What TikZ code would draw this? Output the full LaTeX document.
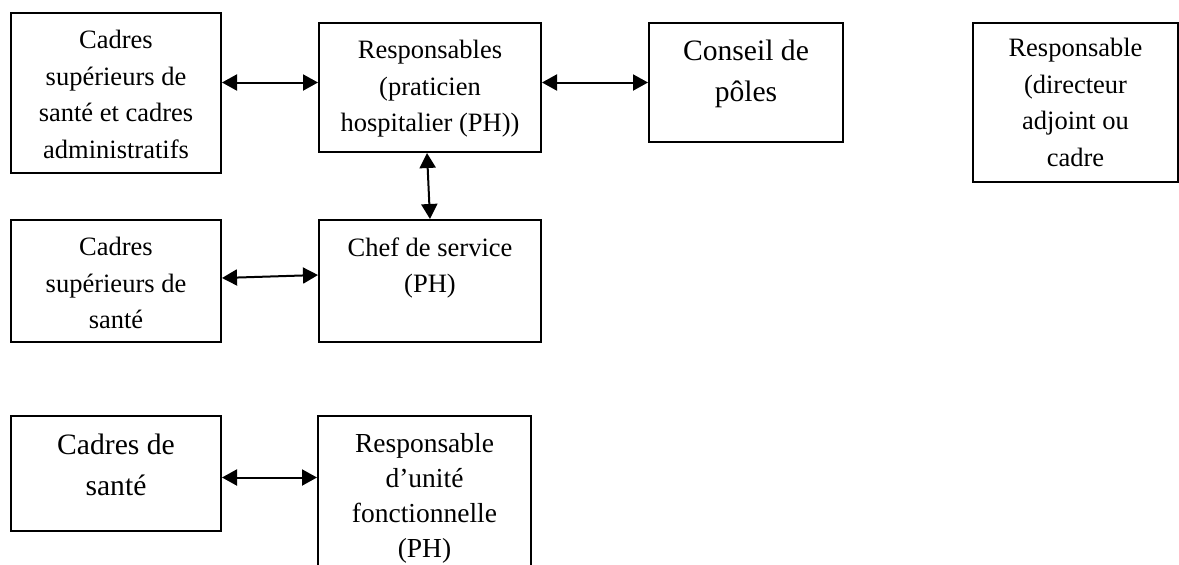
\documentclass[tikz,border=0pt]{standalone}
\usepackage{fontspec}
\setmainfont{Liberation Serif}
\usetikzlibrary{arrows.meta, positioning}

\begin{document}
\begin{tikzpicture}[
    boite/.style={rectangle, draw, line width=1pt, anchor=north west, inner sep=0pt},
    texte/.style={inner sep=0pt, align=center, font=\fontsize{13.25}{18.25}\selectfont},
    serre/.style={inner sep=0pt, align=center, font=\fontsize{13.75}{17.5}\selectfont},
    grand/.style={inner sep=0pt, align=center, font=\fontsize{14.8}{20.5}\selectfont},
    fleche/.style={{Triangle[length=7.5pt,width=8pt]}-{Triangle[length=7.5pt,width=8pt]}, line width=1pt}
]
\useasboundingbox (0,0) rectangle (589.5pt,-282pt);

% cadres
\node[boite, minimum width=105pt, minimum height=80pt] (cadsup) at (5pt,-6pt) {};
\node[boite, minimum width=105pt, minimum height=61pt] (cadsan) at (5pt,-109.5pt) {};
\node[boite, minimum width=105pt, minimum height=57.5pt] (cadres) at (5pt,-207.5pt) {};
\node[boite, minimum width=111pt, minimum height=64.5pt] (resp) at (159pt,-11pt) {};
\node[boite, minimum width=111pt, minimum height=61pt] (chef) at (159pt,-109.5pt) {};
\node[boite, minimum width=106.5pt, minimum height=81pt] (unite) at (158.5pt,-207.5pt) {};
\node[boite, minimum width=97pt, minimum height=59.5pt] (conseil) at (324pt,-11pt) {};
\node[boite, minimum width=102.5pt, minimum height=79.5pt] (direct) at (486pt,-11pt) {};

% textes
\node[texte, below=9pt of cadsup.north] (cadsup-t) {Cadres\\supérieurs de\\santé et cadres\\administratifs};
\node[texte, below=9pt of cadsan.north] (cadsan-t) {Cadres\\supérieurs de\\santé};
\node[grand, below=9.5pt of cadres.north] (cadres-t) {Cadres de\\santé};
\node[texte, below=9pt of resp.north] (resp-t) {Responsables\\(praticien\\hospitalier (PH))};
\node[texte, below=9pt of chef.north] (chef-t) {Chef de service\\(PH)};
\node[serre, below=9pt of unite.north] (unite-t) {Responsable\\d’unité\\fonctionnelle\\(PH)};
\node[grand, below=9pt of conseil.north] (conseil-t) {Conseil de\\pôles};
\node[texte, below=8pt of direct.north] (direct-t) {Responsable\\(directeur\\adjoint ou\\cadre};

% liens
\draw[fleche] (cadsup.east |- conseil.west) -- (resp.west |- conseil.west);
\draw[fleche] (resp.east |- conseil.west) -- (conseil.west);
\draw[fleche] ([xshift=-1.5pt]resp.south) -- (chef.north);
\draw[fleche] ([yshift=1.5pt]cadsan.east) -- ([yshift=3pt]chef.west);
\draw[fleche] ([yshift=-2pt]cadres.east) -- ([yshift=-2pt]cadres.east -| unite.west);

\end{tikzpicture}
\end{document}
